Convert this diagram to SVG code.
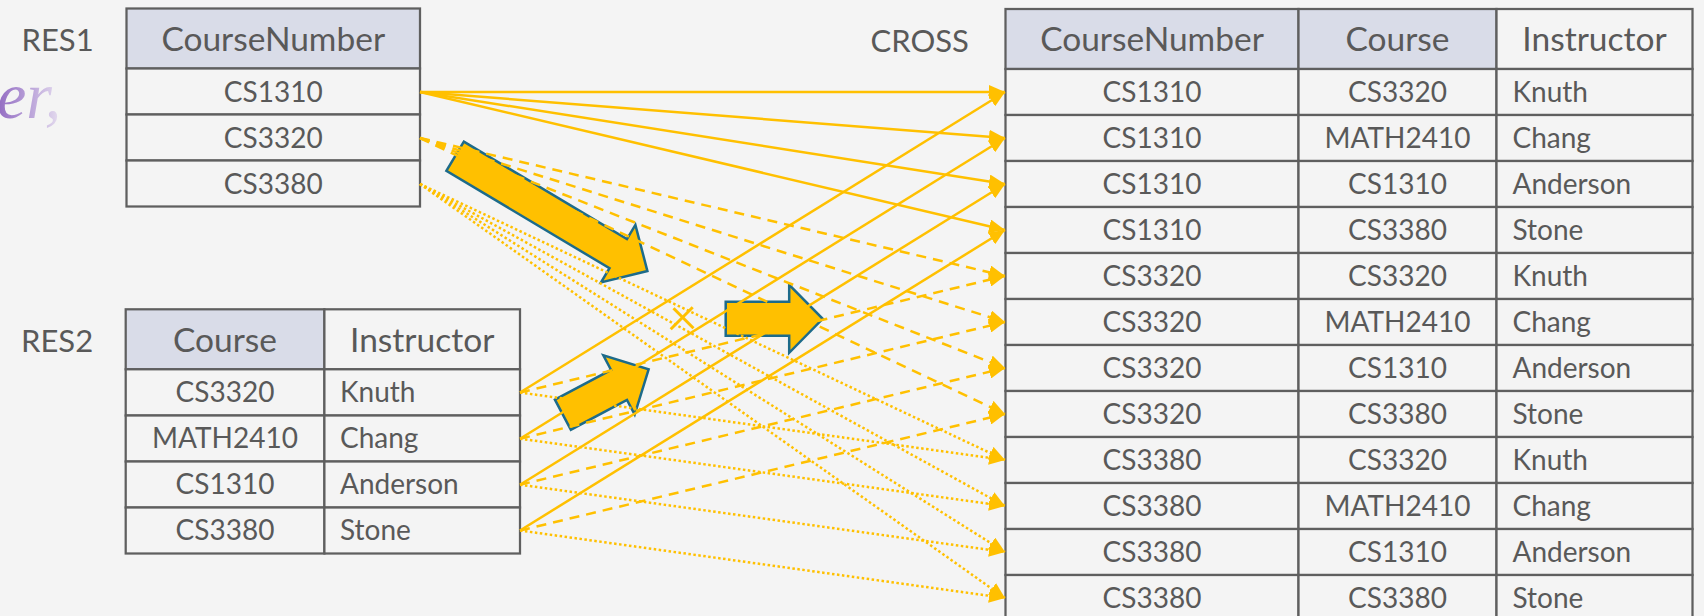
<svg xmlns="http://www.w3.org/2000/svg" width="1704" height="616" viewBox="0 0 1704 616">
  <style>
    .bg { fill: #f4f4f4; }
    .cell { fill: #f4f4f4; stroke: #5f5f5f; stroke-width: 2.25; }
    .hdr { fill: #d9dce8; stroke: #5f5f5f; stroke-width: 2.25; }
    .t { font-family: Lato, "Liberation Sans", sans-serif; fill: #595959; font-size: 28px; }
    .th { font-family: Lato, "Liberation Sans", sans-serif; fill: #595959; font-size: 33.5px; }
    .lbl { font-family: Lato, "Liberation Sans", sans-serif; fill: #595959; font-size: 31px; }
    .c { text-anchor: middle; }
    .blk { fill: #ffc000; stroke: #1d6b8a; stroke-width: 2.5; stroke-linejoin: miter; }
    .ln { fill: none; stroke: #ffc000; stroke-width: 2.5; marker-end: url(#ah); }
    .dash { stroke-dasharray: 10 7; }
    .dot { stroke-dasharray: 2.5 2.5; }
  </style>
  <defs>
    <marker id="ah" markerUnits="userSpaceOnUse" markerWidth="16" markerHeight="14" viewBox="0 0 16 14" refX="16" refY="7" orient="auto">
      <path d="M0,0 L16,7 L0,14 z" fill="#ffc000"/>
    </marker>
    <linearGradient id="fade" gradientUnits="userSpaceOnUse" x1="0" y1="0" x2="64" y2="0">
      <stop offset="0" stop-color="#9670c4"/>
      <stop offset="0.45" stop-color="#b8a0d8"/>
      <stop offset="1" stop-color="#ebe5f2"/>
    </linearGradient>
  </defs>

  <rect class="bg" x="0" y="0" width="1704" height="616"/>

  <!-- faded math fragment at the left edge -->
  <text x="-3" y="118" font-family="'Liberation Serif', serif" font-style="italic" font-size="66" fill="url(#fade)">er,</text>

  <!-- block arrows -->
  <g id="arrow-big">
    <polygon class="blk" transform="translate(455.1,156.2) rotate(30.85)" points="0,-17 190,-17 190,-33.5 224,0 190,33.5 190,17 0,17"/>
  </g>
  <g id="arrow-mid">
    <polygon class="blk" transform="translate(725.7,318.8)" points="0,-17 63.5,-17 63.5,-34 97,0 63.5,34 63.5,17 0,17"/>
  </g>
  <g id="arrow-small">
    <polygon class="blk" transform="translate(562.9,414.7) rotate(-27.9)" points="0,-17 63.5,-17 63.5,-33.5 97,0 63.5,33.5 63.5,17 0,17"/>
  </g>

  <!-- RES1 -->
  <g id="res1">
    <text class="lbl" x="21.5" y="50.7">RES1</text>
    <rect class="hdr" x="126.5" y="8.5" width="293.5" height="60"/>
    <rect class="cell" x="126.5" y="68.5" width="293.5" height="46"/>
    <rect class="cell" x="126.5" y="114.5" width="293.5" height="46"/>
    <rect class="cell" x="126.5" y="160.5" width="293.5" height="46"/>
    <text class="th c" x="273.25" y="50.7">CourseNumber</text>
    <text class="t c" x="273.25" y="101.5">CS1310</text>
    <text class="t c" x="273.25" y="147.5">CS3320</text>
    <text class="t c" x="273.25" y="193.5">CS3380</text>
  </g>

  <!-- RES2 -->
  <g id="res2">
    <text class="lbl" x="21" y="351.7">RES2</text>
    <rect class="hdr" x="125.7" y="309.3" width="198.7" height="60"/>
    <rect class="cell" x="324.4" y="309.3" width="195.6" height="60"/>
    <rect class="cell" x="125.7" y="369.3" width="198.7" height="46.2"/>
    <rect class="cell" x="324.4" y="369.3" width="195.6" height="46.2"/>
    <rect class="cell" x="125.7" y="415.5" width="198.7" height="46"/>
    <rect class="cell" x="324.4" y="415.5" width="195.6" height="46"/>
    <rect class="cell" x="125.7" y="461.5" width="198.7" height="46"/>
    <rect class="cell" x="324.4" y="461.5" width="195.6" height="46"/>
    <rect class="cell" x="125.7" y="507.5" width="198.7" height="46"/>
    <rect class="cell" x="324.4" y="507.5" width="195.6" height="46"/>
    <text class="th c" x="225" y="351.7">Course</text>
    <text class="th c" x="422.2" y="351.7">Instructor</text>
    <text class="t c" x="225" y="401.7">CS3320</text>
    <text class="t" x="340" y="401.7">Knuth</text>
    <text class="t c" x="225" y="447.7">MATH2410</text>
    <text class="t" x="340" y="447.7">Chang</text>
    <text class="t c" x="225" y="493.7">CS1310</text>
    <text class="t" x="340" y="493.7">Anderson</text>
    <text class="t c" x="225" y="539.7">CS3380</text>
    <text class="t" x="340" y="539.7">Stone</text>
  </g>

  <!-- CROSS -->
  <g id="cross">
    <text class="lbl" x="870.5" y="51.5">CROSS</text>
    <rect class="hdr" x="1005.5" y="9" width="293" height="60"/>
    <rect class="hdr" x="1298.5" y="9" width="198" height="60"/>
    <rect class="cell" x="1496.5" y="9" width="196" height="60"/>
    <g>
      <rect class="cell" x="1005.5" y="69" width="293" height="46"/><rect class="cell" x="1298.5" y="69" width="198" height="46"/><rect class="cell" x="1496.5" y="69" width="196" height="46"/>
      <rect class="cell" x="1005.5" y="115" width="293" height="46"/><rect class="cell" x="1298.5" y="115" width="198" height="46"/><rect class="cell" x="1496.5" y="115" width="196" height="46"/>
      <rect class="cell" x="1005.5" y="161" width="293" height="46"/><rect class="cell" x="1298.5" y="161" width="198" height="46"/><rect class="cell" x="1496.5" y="161" width="196" height="46"/>
      <rect class="cell" x="1005.5" y="207" width="293" height="46"/><rect class="cell" x="1298.5" y="207" width="198" height="46"/><rect class="cell" x="1496.5" y="207" width="196" height="46"/>
      <rect class="cell" x="1005.5" y="253" width="293" height="46"/><rect class="cell" x="1298.5" y="253" width="198" height="46"/><rect class="cell" x="1496.5" y="253" width="196" height="46"/>
      <rect class="cell" x="1005.5" y="299" width="293" height="46"/><rect class="cell" x="1298.5" y="299" width="198" height="46"/><rect class="cell" x="1496.5" y="299" width="196" height="46"/>
      <rect class="cell" x="1005.5" y="345" width="293" height="46"/><rect class="cell" x="1298.5" y="345" width="198" height="46"/><rect class="cell" x="1496.5" y="345" width="196" height="46"/>
      <rect class="cell" x="1005.5" y="391" width="293" height="46"/><rect class="cell" x="1298.5" y="391" width="198" height="46"/><rect class="cell" x="1496.5" y="391" width="196" height="46"/>
      <rect class="cell" x="1005.5" y="437" width="293" height="46"/><rect class="cell" x="1298.5" y="437" width="198" height="46"/><rect class="cell" x="1496.5" y="437" width="196" height="46"/>
      <rect class="cell" x="1005.5" y="483" width="293" height="46"/><rect class="cell" x="1298.5" y="483" width="198" height="46"/><rect class="cell" x="1496.5" y="483" width="196" height="46"/>
      <rect class="cell" x="1005.5" y="529" width="293" height="46"/><rect class="cell" x="1298.5" y="529" width="198" height="46"/><rect class="cell" x="1496.5" y="529" width="196" height="46"/>
      <rect class="cell" x="1005.5" y="575" width="293" height="46"/><rect class="cell" x="1298.5" y="575" width="198" height="46"/><rect class="cell" x="1496.5" y="575" width="196" height="46"/>
    </g>
    <text class="th c" x="1152" y="51">CourseNumber</text>
    <text class="th c" x="1397.5" y="51">Course</text>
    <text class="th c" x="1594.5" y="51">Instructor</text>

    <text class="t c" x="1152" y="102">CS1310</text><text class="t c" x="1397.5" y="102">CS3320</text><text class="t" x="1512.5" y="102">Knuth</text>
    <text class="t c" x="1152" y="148">CS1310</text><text class="t c" x="1397.5" y="148">MATH2410</text><text class="t" x="1512.5" y="148">Chang</text>
    <text class="t c" x="1152" y="194">CS1310</text><text class="t c" x="1397.5" y="194">CS1310</text><text class="t" x="1512.5" y="194">Anderson</text>
    <text class="t c" x="1152" y="240">CS1310</text><text class="t c" x="1397.5" y="240">CS3380</text><text class="t" x="1512.5" y="240">Stone</text>
    <text class="t c" x="1152" y="286">CS3320</text><text class="t c" x="1397.5" y="286">CS3320</text><text class="t" x="1512.5" y="286">Knuth</text>
    <text class="t c" x="1152" y="332">CS3320</text><text class="t c" x="1397.5" y="332">MATH2410</text><text class="t" x="1512.5" y="332">Chang</text>
    <text class="t c" x="1152" y="378">CS3320</text><text class="t c" x="1397.5" y="378">CS1310</text><text class="t" x="1512.5" y="378">Anderson</text>
    <text class="t c" x="1152" y="424">CS3320</text><text class="t c" x="1397.5" y="424">CS3380</text><text class="t" x="1512.5" y="424">Stone</text>
    <text class="t c" x="1152" y="470">CS3380</text><text class="t c" x="1397.5" y="470">CS3320</text><text class="t" x="1512.5" y="470">Knuth</text>
    <text class="t c" x="1152" y="516">CS3380</text><text class="t c" x="1397.5" y="516">MATH2410</text><text class="t" x="1512.5" y="516">Chang</text>
    <text class="t c" x="1152" y="562">CS3380</text><text class="t c" x="1397.5" y="562">CS1310</text><text class="t" x="1512.5" y="562">Anderson</text>
    <text class="t c" x="1152" y="608">CS3380</text><text class="t c" x="1397.5" y="608">CS3380</text><text class="t" x="1512.5" y="608">Stone</text>
  </g>

  <!-- connectors: every RES1 row paired with every RES2 row -->
  <g id="connectors">
    <line class="ln" x1="420" y1="92" x2="1005" y2="92"/>
    <line class="ln" x1="420" y1="92" x2="1005" y2="138"/>
    <line class="ln" x1="420" y1="92" x2="1005" y2="184"/>
    <line class="ln" x1="420" y1="92" x2="1005" y2="230"/>

    <line class="ln dash" x1="420" y1="138" x2="1005" y2="276"/>
    <line class="ln dash" x1="420" y1="138" x2="1005" y2="322"/>
    <line class="ln dash" x1="420" y1="138" x2="1005" y2="368"/>
    <line class="ln dash" x1="420" y1="138" x2="1005" y2="414"/>

    <line class="ln dot" x1="420" y1="184" x2="1005" y2="460"/>
    <line class="ln dot" x1="420" y1="184" x2="1005" y2="506"/>
    <line class="ln dot" x1="420" y1="184" x2="1005" y2="552"/>
    <line class="ln dot" x1="420" y1="184" x2="1005" y2="598"/>

    <line class="ln" x1="520" y1="392.5" x2="1005" y2="92"/>
    <line class="ln" x1="520" y1="438.7" x2="1005" y2="138"/>
    <line class="ln" x1="520" y1="484.7" x2="1005" y2="184"/>
    <line class="ln" x1="520" y1="530.5" x2="1005" y2="230"/>

    <line class="ln dash" x1="520" y1="392.5" x2="1005" y2="276"/>
    <line class="ln dash" x1="520" y1="438.7" x2="1005" y2="322"/>
    <line class="ln dash" x1="520" y1="484.7" x2="1005" y2="368"/>
    <line class="ln dash" x1="520" y1="530.5" x2="1005" y2="414"/>

    <line class="ln dot" x1="520" y1="392.5" x2="1005" y2="460"/>
    <line class="ln dot" x1="520" y1="438.7" x2="1005" y2="506"/>
    <line class="ln dot" x1="520" y1="484.7" x2="1005" y2="552"/>
    <line class="ln dot" x1="520" y1="530.5" x2="1005" y2="598"/>
  </g>

  <!-- cross-product mark -->
  <g id="times-mark" stroke="#ffc000" stroke-width="3" stroke-linecap="butt">
    <line x1="670.7" y1="329.3" x2="692.7" y2="307.3"/>
    <line x1="673.5" y1="308.3" x2="693.5" y2="328.3"/>
  </g>
</svg>
